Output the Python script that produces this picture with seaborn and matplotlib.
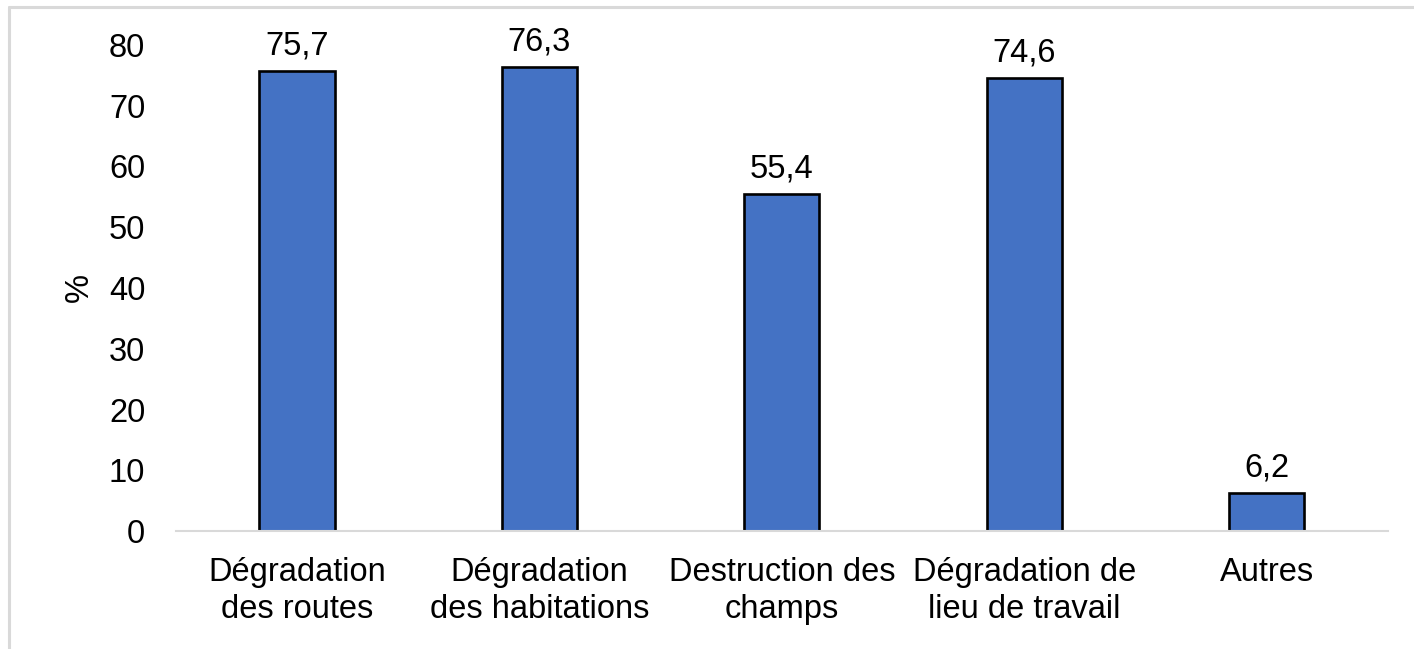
import numpy as np
import pandas as pd
import matplotlib
matplotlib.use("Agg")
import matplotlib.pyplot as plt
import seaborn as sns
from matplotlib.lines import Line2D

categories = ["Dégradation\ndes routes", "Dégradation\ndes habitations",
              "Destruction des\nchamps", "Dégradation de\nlieu de travail", "Autres"]
values = [75.7, 76.3, 55.4, 74.6, 6.2]
yticks = [0, 10, 20, 30, 40, 50, 60, 70, 80]

df = pd.DataFrame({"cat": categories, "val": values})

sns.set_theme(style="white")
plt.rcParams["font.family"] = ["Liberation Sans", "DejaVu Sans"]
plt.rcParams["text.color"] = "black"
plt.rcParams["axes.labelcolor"] = "black"

FS = 23.5

fig = plt.figure(figsize=(14.14, 6.49), dpi=100)
ax = fig.add_axes([0.1243, 0.1818, 0.8573, 0.7489])

sns.barplot(data=df, x="cat", y="val", ax=ax, color="#4472C4",
            edgecolor="black", linewidth=1.9, width=0.31, saturation=1)

for p, v in zip(ax.patches, values):
    ax.annotate(f"{v:.1f}".replace(".", ","),
                (p.get_x() + p.get_width() / 2, p.get_height()),
                xytext=(0, 7), textcoords="offset points",
                ha="center", va="bottom", fontsize=FS, color="black",
                clip_on=False)

ax.set_ylim(0, 80)
ax.set_xlim(-0.5, len(categories) - 0.5)
ax.set_yticks(yticks)
ax.set_xlabel("")
ax.set_ylabel("%", fontsize=FS, labelpad=10)
ax.tick_params(axis="y", length=0, pad=22, labelsize=FS, labelcolor="black")
ax.tick_params(axis="x", length=0, pad=19, labelsize=FS, labelcolor="black")
for lbl in ax.get_xticklabels():
    lbl.set_linespacing(1.25)

for s in ["top", "right", "left"]:
    ax.spines[s].set_visible(False)
ax.spines["bottom"].set_color("#d9d9d9")
ax.spines["bottom"].set_linewidth(1.5)
ax.grid(False)

# light frame on the left and top of the picture
fig.add_artist(Line2D([8.5 / 1414, 8.5 / 1414], [0, 1 - 6.5 / 649],
                      transform=fig.transFigure, color="#d9d9d9", lw=2.2))
fig.add_artist(Line2D([8.5 / 1414, 1], [1 - 6.5 / 649, 1 - 6.5 / 649],
                      transform=fig.transFigure, color="#d9d9d9", lw=2.2))

fig.savefig("out.png", dpi=100)
